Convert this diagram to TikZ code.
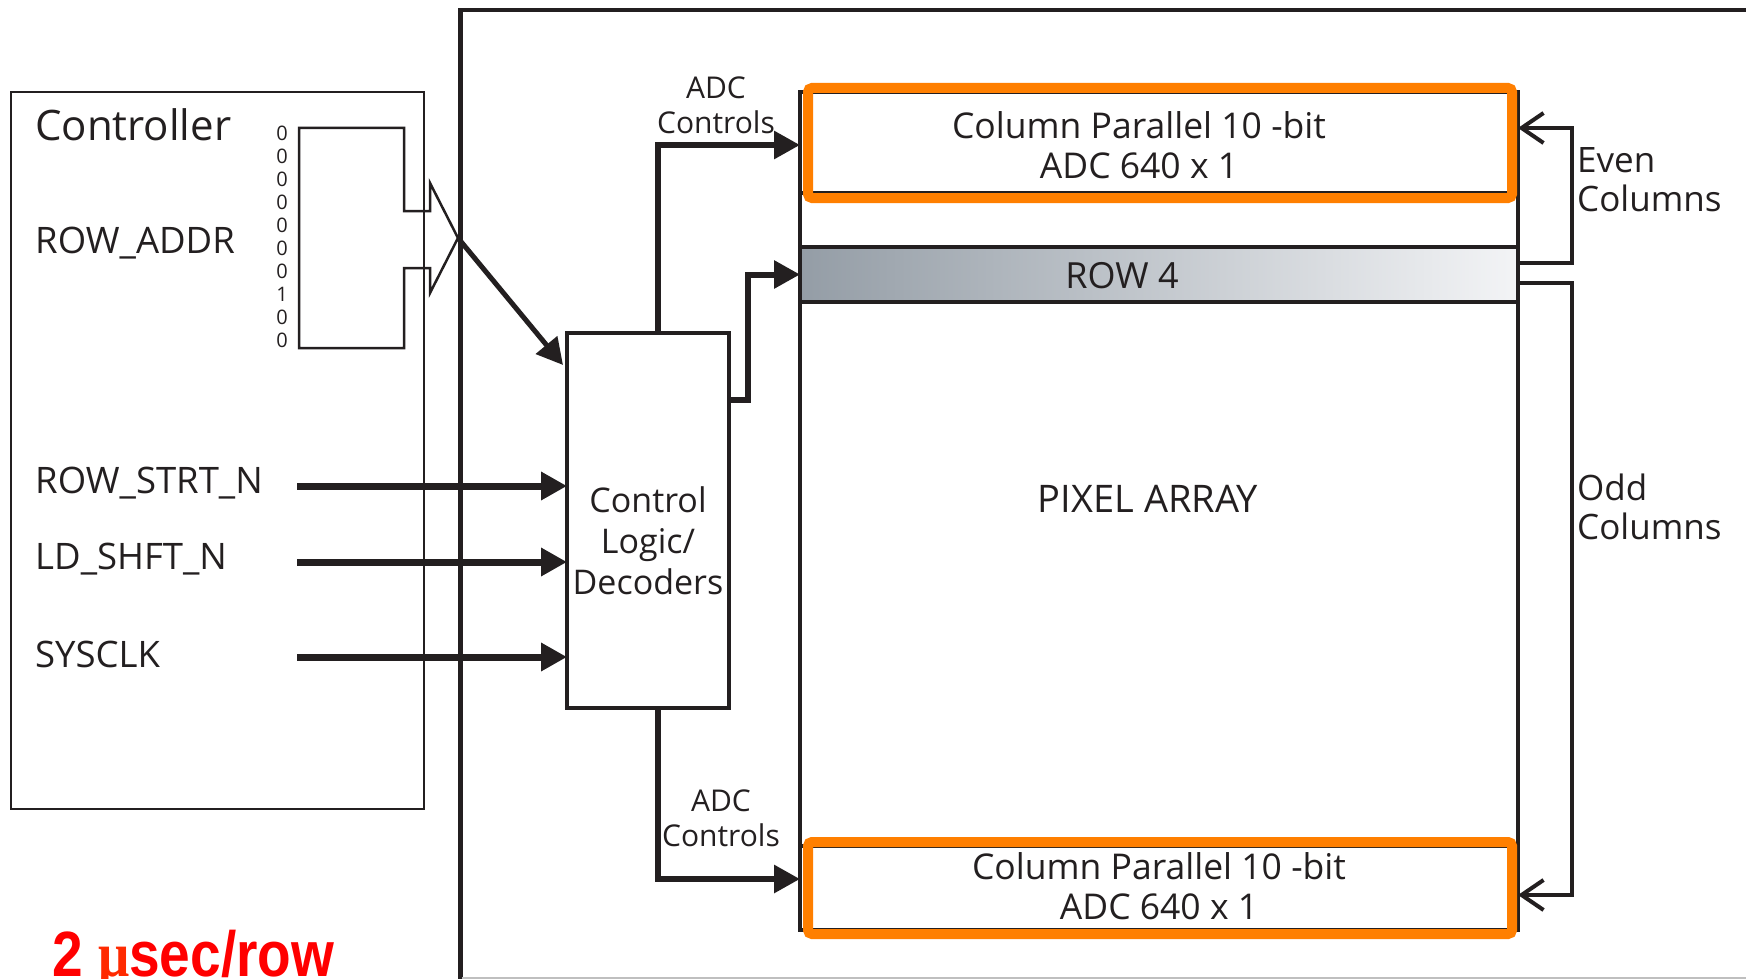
\documentclass[tikz,border=0pt]{standalone}
\usepackage{fontspec}
\setmainfont{Open Sans}
\newfontfamily\redfont{Liberation Sans}
\newfontfamily\mufont{Liberation Serif}
\usetikzlibrary{arrows.meta}
\definecolor{ink}{HTML}{231F20}
\definecolor{orng}{HTML}{FF7F00}
\definecolor{rowL}{HTML}{949DA6}
\definecolor{rowR}{HTML}{F3F4F6}
\definecolor{redtxt}{HTML}{FF0000}
\definecolor{mured}{HTML}{FF2A00}
\begin{document}
\begin{tikzpicture}[x=1pt,y=-1pt,
  box/.style={draw=ink,inner sep=0pt,outer sep=0pt},
  farr/.style={draw=ink,line width=6pt,-{Triangle[length=26pt,width=27pt]}},
  oarr/.style={draw=ink,line width=4pt,-{Straight Barb[length=22pt,width=30pt]}},
  lbl/.style={text=ink,inner sep=0pt},
  hilite/.style={draw=orng,line width=10pt,rounded corners=4pt,inner sep=0pt,outer sep=0pt}
]
\useasboundingbox (0,0) rectangle (1746,979);
\fill[white] (0,0) rectangle (1746,979);

% outer frame
\draw[ink,line width=5pt] (460,979) -- (460,10);
\draw[ink,line width=3.5pt] (458,10) -- (1746,10);
\draw[black!25,line width=2pt] (462,978) -- (1746,978);

% controller box
\node[box,line width=2.5pt,minimum width=413,minimum height=717,anchor=north west] (ctrl) at (11,92) {};
\node[lbl,anchor=west,font=\fontsize{42}{46}\selectfont] (tctrl) at (35,125) {Controller};
\node[lbl,anchor=west,font=\fontsize{36.5}{40}\selectfont] (taddr) at (35,243) {ROW\_ADDR};
\node[lbl,anchor=west,font=\fontsize{36.5}{40}\selectfont] (tstrt) at (35,483) {ROW\_STRT\_N};
\node[lbl,anchor=west,font=\fontsize{36.5}{40}\selectfont] (tshft) at (35,559) {LD\_SHFT\_N};
\node[lbl,anchor=west,font=\fontsize{36.5}{40}\selectfont] (tclk) at (35,654) {SYSCLK};

% register symbol
\node[lbl,align=center,font=\fontsize{20}{23}\selectfont] (bits) at (282,237) {0\\0\\0\\0\\0\\0\\0\\1\\0\\0};
\draw[ink,line width=2.5pt,line join=miter] (404,128) -- (299,128) -- (299,348) -- (404,348) -- (404,268) -- (430,268) -- (430,293) -- (458,238) -- (430,183) -- (430,211) -- (404,211) -- cycle;
\coordinate (regtip) at (458,238);

% control logic
\node[box,line width=3.5pt,minimum width=162,minimum height=375] (cl) at (648,520.5) {};
\node[lbl,align=center,font=\fontsize{34}{41}\selectfont] (tcl) at (648,541) {Control\\Logic/\\Decoders};

% pixel array and ADCs
\node[box,line width=3.5pt,minimum width=718,minimum height=838] (pa) at (1159,511) {};
\node[lbl,font=\fontsize{38}{42}\selectfont] (tpa) at (1148,499) {PIXEL ARRAY};
\node[box,line width=3.5pt,minimum width=718,minimum height=55,left color=rowL,right color=rowR] (row4) at (1159,274.5) {};
\node[lbl,font=\fontsize{36}{40}\selectfont] (trow) at (1122,276) {ROW 4};
\node[box,line width=3.5pt,fill=white,minimum width=718,minimum height=101] (adcT) at (1159,142.5) {};
\node[box,line width=3.5pt,fill=white,minimum width=718,minimum height=84] (adcB) at (1159,888) {};
\node[hilite,minimum width=704,minimum height=110] (hiT) at (1160,143) {};
\node[hilite,minimum width=704,minimum height=92] (hiB) at (1160,888) {};
\node[lbl,align=center,font=\fontsize{35.5}{40}\selectfont] (tadcT) at (1139,145) {Column Parallel 10 -bit\\ADC 640 x 1};
\node[lbl,align=center,font=\fontsize{35.5}{40}\selectfont] (tadcB) at (1159,886) {Column Parallel 10 -bit\\ADC 640 x 1};

% ADC control labels
\node[lbl,align=center,font=\fontsize{30}{35}\selectfont] (tacT) at (716,105) {ADC\\Controls};
\node[lbl,align=center,font=\fontsize{30}{35}\selectfont] (tacB) at (721,818) {ADC\\Controls};

% even / odd labels
\node[lbl,anchor=west,align=left,font=\fontsize{35}{39}\selectfont] (teven) at (1577,180) {Even\\Columns};
\node[lbl,anchor=west,align=left,font=\fontsize{35}{39}\selectfont] (todd) at (1577,507) {Odd\\Columns};

% helper coordinates
\coordinate (i1) at (297,486);
\coordinate (i2) at (297,562);
\coordinate (i3) at (297,657);
\coordinate (vx) at (658,0);
\coordinate (rx) at (748,0);
\coordinate (ry) at (0,400);
\coordinate (by) at (0,879);
\coordinate (ty) at (0,145);
\coordinate (ex) at (1572,0);
\coordinate (e1) at (0,263);
\coordinate (e2) at (0,128);
\coordinate (o1) at (0,283);
\coordinate (o2) at (0,895);
\coordinate (dend) at (563,365);

% connectors
\draw[farr,line width=5pt] (regtip) -- (dend);
\draw[farr,line width=7pt] (i1) -- (i1 -| cl.west);
\draw[farr,line width=7pt] (i2) -- (i2 -| cl.west);
\draw[farr,line width=7pt] (i3) -- (i3 -| cl.west);
\draw[farr] (cl.north -| vx) |- (adcT.west |- ty);
\draw[farr] (cl.south -| vx) |- (adcB.west |- by);
\draw[farr] (cl.east |- ry) -| (rx |- row4.west) -- (row4.west);
\draw[oarr] (row4.east |- e1) -| (ex |- e2) -- (adcT.east |- e2);
\draw[oarr] (row4.east |- o1) -| (ex |- o2) -- (adcB.east |- o2);

% rate
\node[anchor=base west,inner sep=0pt,text=redtxt,xscale=0.86] (rate) at (52,976) {\redfont\bfseries\fontsize{64}{68}\selectfont 2 {\mufont\bfseries\color{mured}μ}sec/row};
\end{tikzpicture}
\end{document}
